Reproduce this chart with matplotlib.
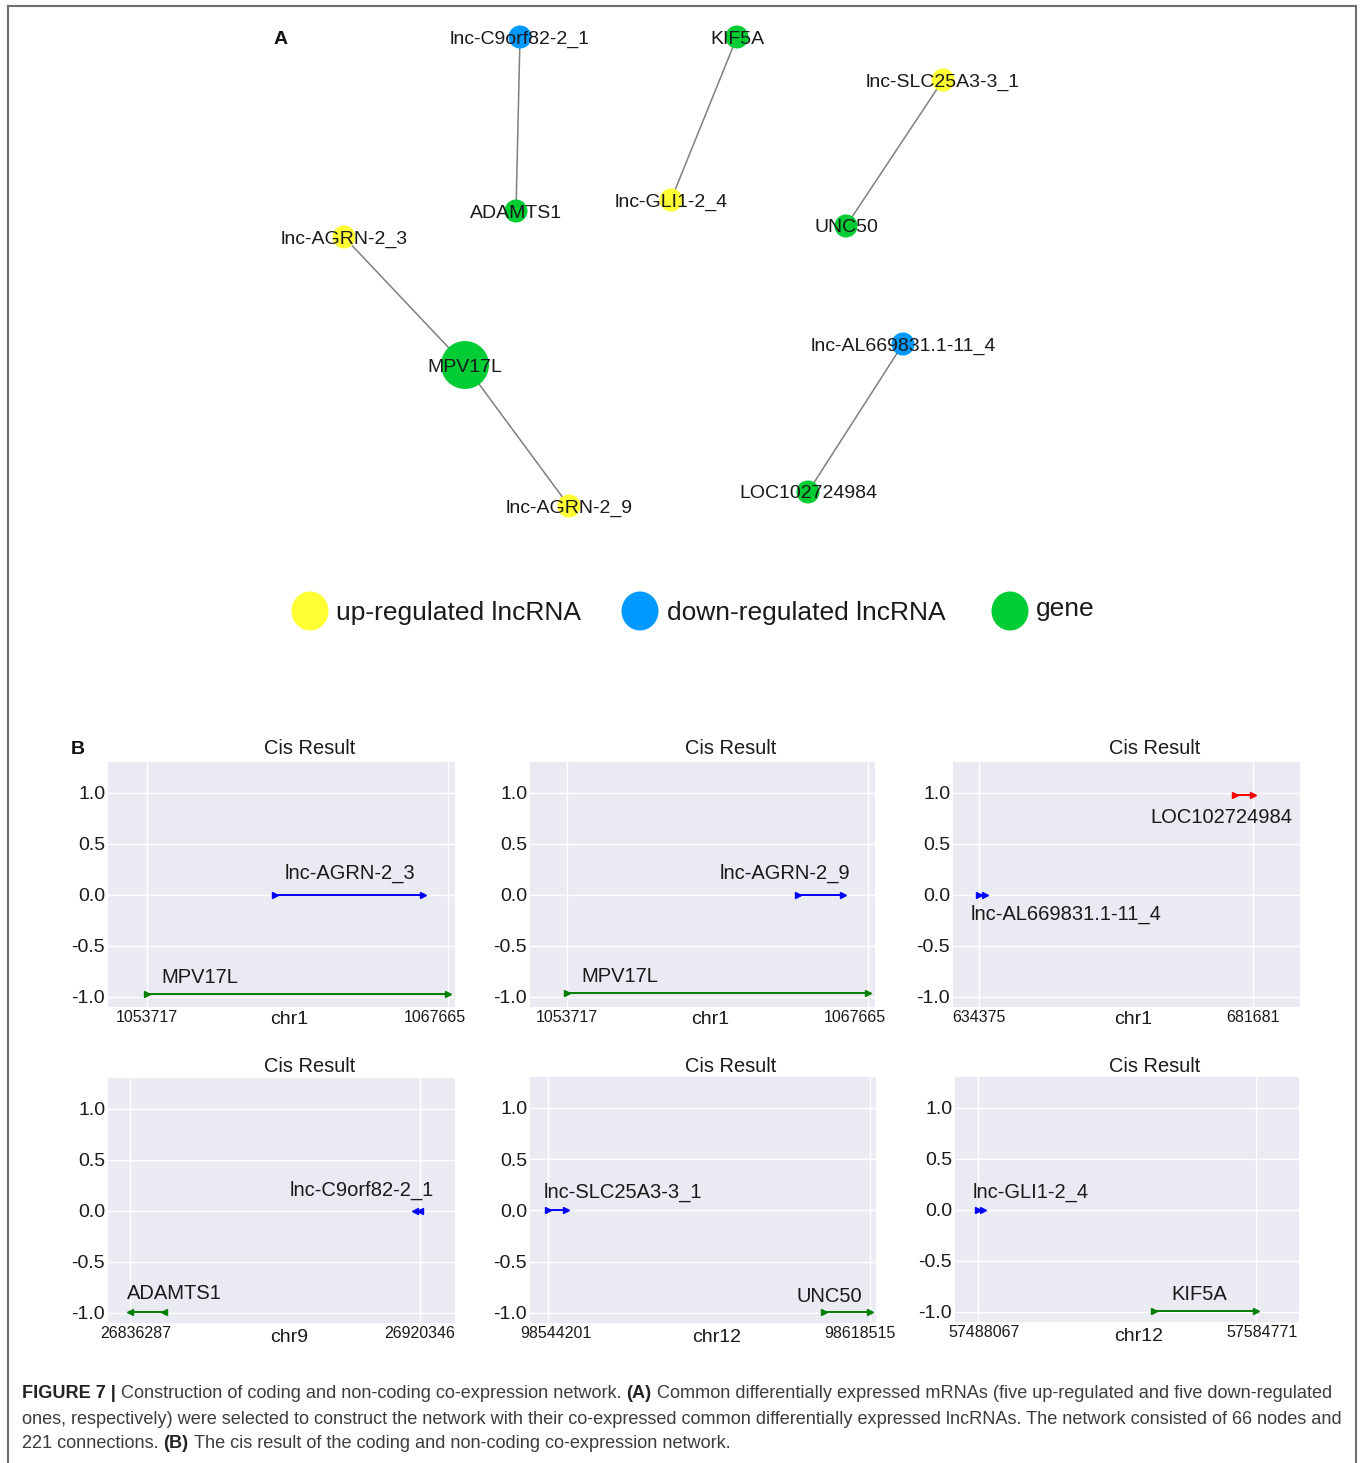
import matplotlib
matplotlib.use("Agg")
import matplotlib.pyplot as plt
import matplotlib.transforms as mtransforms
from matplotlib.patches import Circle, Ellipse
from matplotlib import font_manager

plt.rcParams["font.family"] = ["Liberation Sans", "DejaVu Sans"]
plt.rcParams["axes.unicode_minus"] = False

W, H, DPI = 1362, 1463, 100

# ---------------- Panel A: co-expression network ----------------
node_names = ["lnc-C9orf82-2_1", "KIF5A", "lnc-SLC25A3-3_1", "ADAMTS1", "lnc-GLI1-2_4",
              "UNC50", "lnc-AGRN-2_3", "MPV17L", "lnc-AL669831.1-11_4", "lnc-AGRN-2_9",
              "LOC102724984"]
node_kind = ["down", "gene", "up", "gene", "up", "gene", "up", "gene", "down", "up", "gene"]
# layout coordinates of the nodes (figure pixels)
node_x = [520, 737, 943, 516, 671, 846, 344, 465, 903, 569, 808]
node_y = [37, 37, 80, 211, 200, 226, 237, 365, 344, 506, 492]
edge_src = ["lnc-C9orf82-2_1", "KIF5A", "lnc-SLC25A3-3_1", "lnc-AGRN-2_3", "MPV17L",
            "lnc-AL669831.1-11_4"]
edge_dst = ["ADAMTS1", "lnc-GLI1-2_4", "UNC50", "MPV17L", "lnc-AGRN-2_9", "LOC102724984"]

legend_labels = ["up-regulated lncRNA", "down-regulated lncRNA", "gene"]
legend_kinds = ["up", "down", "gene"]

kind_color = {"up": "#FFFF33", "down": "#0099FF", "gene": "#00CC33"}

# ---------------- Panel B: cis results ----------------
panel_chrom = ["chr1", "chr1", "chr1", "chr9", "chr12", "chr12"]
panel_tick_lo = [1053717, 1053717, 634375, 26836287, 98544201, 57488067]
panel_tick_hi = [1067665, 1067665, 681681, 26920346, 98618515, 57584771]
panel_xmin = [1051927, 1052020, 629881, 26829910, 98539974, 57480170]
panel_xmax = [1067975, 1067975, 689856, 26930491, 98619901, 57599833]

feat_panel = [0, 0, 1, 1, 2, 2, 3, 3, 4, 4, 5, 5]
feat_name = ["MPV17L", "lnc-AGRN-2_3", "MPV17L", "lnc-AGRN-2_9",
             "lnc-AL669831.1-11_4", "LOC102724984", "ADAMTS1", "lnc-C9orf82-2_1",
             "lnc-SLC25A3-3_1", "UNC50", "lnc-GLI1-2_4", "KIF5A"]
feat_start = [1053717, 1059650, 1053717, 1064428, 634375, 678570, 26836287, 26918900,
              98544201, 98607889, 57488067, 57549393]
feat_end = [1067665, 1066481, 1067665, 1066481, 635400, 681681, 26846142, 26920346,
            98548220, 98618515, 57490015, 57584771]
feat_level = [-0.97, 0.0, -0.96, 0.0, 0.0, 0.975, -0.99, 0.0, 0.0, -0.99, 0.0, -0.99]
feat_strand = ["+", "+", "+", "+", "+", "+", "-", "-", "+", "+", "+", "+"]
feat_color = ["green", "blue", "green", "blue", "blue", "red", "green", "blue",
              "blue", "green", "blue", "green"]
# text anchors of the feature names (data coordinates)
feat_label_x = [1054411, 1060113, 1054411, 1060807, 632992, 663931, 26835330, 26882461,
                98543046, 98601583, 57486189, 57555551]
feat_label_y = [-0.81, 0.21, -0.80, 0.205, -0.195, 0.76, -0.81, 0.197, 0.17, -0.84, 0.173, -0.826]

y_ticks = [-1.0, -0.5, 0.0, 0.5, 1.0]

# axes boxes in pixels: left, top, right, bottom
ax_boxes = [(108, 762, 455, 1007), (530, 762, 875, 1007), (953, 762, 1300, 1007),
            (108, 1078, 455, 1323), (530, 1077, 876, 1323), (955, 1077, 1299, 1322)]
lo_label_shift = [0, 0, 0, 6, 8, 6]
hi_label_shift = [-13, -13, 0, 0, -10, 6]
xlabel_shift = [8, 8, 7, 8, 14, 12]

fig = plt.figure(figsize=(W / DPI, H / DPI), dpi=DPI)
canvas = fig.add_axes([0, 0, 1, 1])
canvas.set_xlim(0, W)
canvas.set_ylim(H, 0)
canvas.axis("off")

# outer frame
frame_kw = dict(color="#6e6e6e", lw=1.5, solid_capstyle="projecting")
canvas.plot([8, 8], [H, 6], **frame_kw)
canvas.plot([8, 1356], [6, 6], **frame_kw)
canvas.plot([1356, 1356], [6, H], **frame_kw)

# network edges
pos = {n: (x, y) for n, x, y in zip(node_names, node_x, node_y)}
degree = {n: 0 for n in node_names}
for a, b in zip(edge_src, edge_dst):
    degree[a] += 1
    degree[b] += 1
    canvas.plot([pos[a][0], pos[b][0]], [pos[a][1], pos[b][1]], color="#7f7f7f", lw=1.1, zorder=1)

# network nodes + labels
for n, k in zip(node_names, node_kind):
    r = 11.5 if degree[n] == 1 else 24
    canvas.add_patch(Circle(pos[n], r, facecolor=kind_color[k], edgecolor="none", zorder=2))
    canvas.text(pos[n][0], pos[n][1] + 2, n, ha="center", va="center", fontsize=14,
                color="#1a1a1a", zorder=3)

canvas.text(281, 40, "A", ha="center", va="center", fontsize=14, fontweight="bold", color="#111111")
canvas.text(78, 750, "B", ha="center", va="center", fontsize=14, fontweight="bold", color="#111111")

# legend
leg_cx = [310, 640, 1010]
leg_tx = [336, 667, 1036]
leg_ty = [613, 613, 609]
for cx, tx, ty, lab, k in zip(leg_cx, leg_tx, leg_ty, legend_labels, legend_kinds):
    canvas.add_patch(Ellipse((cx, 611), 37, 39, facecolor=kind_color[k], edgecolor="none"))
    canvas.text(tx, ty, lab, ha="left", va="center", fontsize=19, color="#1a1a1a")

# cis result panels
for i, (l, t, r, b) in enumerate(ax_boxes):
    ax = fig.add_axes([l / W, 1 - b / H, (r - l) / W, (b - t) / H])
    ax.set_facecolor("#EAEAF2")
    for sp in ax.spines.values():
        sp.set_visible(False)
    ax.set_xlim(panel_xmin[i], panel_xmax[i])
    ax.set_ylim(-1.1, 1.3)
    ticks = [panel_tick_lo[i], panel_tick_hi[i]]
    ax.set_xticks(ticks)
    ax.set_xticklabels([str(v) for v in ticks], fontsize=11.5, color="#1a1a1a")
    ax.set_yticks(y_ticks)
    ax.set_yticklabels(["%.1f" % v for v in y_ticks], fontsize=14, color="#1a1a1a")
    ax.tick_params(axis="both", length=0)
    ax.tick_params(axis="x", pad=2.5)
    ax.tick_params(axis="y", pad=2)
    ax.grid(True, color="white", lw=1.0)
    ax.set_axisbelow(True)

    labs = ax.get_xticklabels()
    for lab, sh in zip(labs, (lo_label_shift[i], hi_label_shift[i])):
        lab.set_transform(lab.get_transform() +
                          mtransforms.ScaledTranslation(sh / DPI, 0, fig.dpi_scale_trans))

    hgt = b - t
    wid = r - l
    below = 13 if i < 3 else 14.5
    ax.set_xlabel(panel_chrom[i], fontsize=14, color="#1a1a1a")
    ax.xaxis.label.set_va("center")
    ax.xaxis.set_label_coords(0.5 + xlabel_shift[i] / wid, -below / hgt)
    above = 13 if i < 3 else 11
    ax.text(0.5 + 28 / wid, 1 + above / hgt, "Cis Result", transform=ax.transAxes,
            ha="center", va="center", fontsize=14.4, color="#1a1a1a")

    for j, p in enumerate(feat_panel):
        if p != i:
            continue
        mk = ">" if feat_strand[j] == "+" else "<"
        ax.plot([feat_start[j], feat_end[j]], [feat_level[j], feat_level[j]],
                color=feat_color[j], lw=1.4, marker=mk, ms=4.5, zorder=3)
        ax.text(feat_label_x[j], feat_label_y[j], feat_name[j], ha="left", va="center",
                fontsize=14.5, color="#1a1a1a")

# caption
names = {f.name for f in font_manager.fontManager.ttflist}
cap_family = ["Liberation Sans Narrow"] if "Liberation Sans Narrow" in names else ["Liberation Sans"]
renderer = fig.canvas.get_renderer()
cap_lines = [
    [("FIGURE 7 |", True), ("Construction of coding and non-coding co-expression network.", False),
     ("(A)", True), ("Common differentially expressed mRNAs (five up-regulated and five down-regulated", False)],
    [("ones, respectively) were selected to construct the network with their co-expressed common "
      "differentially expressed lncRNAs. The network consisted of 66 nodes and", False)],
    [("221 connections.", False), ("(B)", True),
     ("The cis result of the coding and non-coding co-expression network.", False)],
]


def text_width(s, size, bold):
    t = canvas.text(0, 0, s, fontsize=size, family=cap_family,
                    fontweight="bold" if bold else "normal")
    w = t.get_window_extent(renderer).width
    t.remove()
    return w


def line_width(pieces, size):
    space = text_width("x x", size, False) - text_width("xx", size, False)
    return sum(text_width(s, size, bl) for s, bl in pieces) + space * (len(pieces) - 1)


base = 12.0
cap_size = base * (1334 - 22) / line_width(cap_lines[0], base)
space_w = text_width("x x", cap_size, False) - text_width("xx", cap_size, False)
for row, pieces in enumerate(cap_lines):
    x = 22
    y = 1394 + 25 * row
    for s, bl in pieces:
        t = canvas.text(x, y, s, fontsize=cap_size, family=cap_family, ha="left", va="center",
                        fontweight="bold" if bl else "normal",
                        color="#222222" if bl else "#3c3c3c")
        x += t.get_window_extent(renderer).width + space_w

fig.savefig("out.png", dpi=DPI)
